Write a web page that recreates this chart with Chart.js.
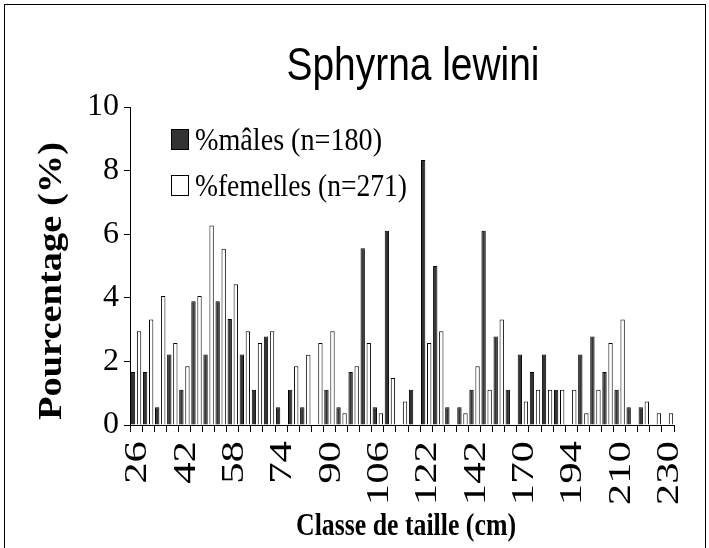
<!DOCTYPE html>
<html>
<head>
<meta charset="utf-8">
<style>
  html, body { margin: 0; padding: 0; background: #fff; }
  #wrap { width: 709px; height: 548px; }
</style>
<script src="https://cdn.jsdelivr.net/npm/chart.js@4/dist/chart.umd.min.js"></script>
</head>
<body>
<div id="wrap"><canvas id="c" width="709" height="548"></canvas></div>
<script>
// size classes (cm) - only every 4th one is printed on the axis
const classes = [26, 30, 34, 38, 42, 46, 50, 54, 58, 62, 66, 70, 74, 78, 82, 86, 90, 94, 98, 102,
  106, 110, 114, 118, 122, 127, 132, 137, 142, 149, 156, 163, 170, 176, 182, 188, 194, 198, 202, 206,
  210, 215, 220, 225, 230];

const males = [1.67, 1.67, 0.56, 2.22, 1.11, 3.89, 2.22, 3.89, 3.33, 2.22, 1.11, 2.78, 0.56, 1.11, 0.56,
  0, 1.11, 0.56, 1.67, 5.56, 0.56, 6.11, 0, 1.11, 8.33, 5.0, 0.56, 0.56, 1.11, 6.11, 2.78, 1.11, 2.22,
  1.67, 2.22, 1.11, 0, 2.22, 2.78, 1.67, 1.11, 0.56, 0.56, 0, 0];

const females = [2.95, 3.32, 4.06, 2.58, 1.85, 4.06, 6.27, 5.54, 4.43, 2.95, 2.58, 2.95, 0, 1.85, 2.21,
  2.58, 2.95, 0.37, 1.85, 2.58, 0.37, 1.48, 0.74, 0, 2.58, 2.95, 0, 0.37, 1.85, 1.11, 3.32, 0, 0.74,
  1.11, 1.11, 1.11, 1.11, 0.37, 1.11, 2.58, 3.32, 0, 0.74, 0.37, 0.37];

const seriesNames = ['%mâles (n=180)', '%femelles (n=271)'];
const yTicks = [0, 2, 4, 6, 8, 10];

const SERIF = '"Liberation Serif", "Times New Roman", serif';
const SANS = '"Liberation Sans", Arial, sans-serif';

// draw a text squeezed/stretched so it takes exactly `w` px
function fitText(ctx, text, x, y, font, w, rot) {
  ctx.save();
  ctx.font = font;
  const natural = ctx.measureText(text).width;
  ctx.translate(x, y);
  if (rot) ctx.rotate(rot);
  ctx.scale(w / natural, 1);
  ctx.textAlign = 'center';
  ctx.textBaseline = 'alphabetic';
  ctx.fillStyle = '#000';
  ctx.fillText(text, 0, 0);
  ctx.restore();
}

const decor = {
  id: 'decor',
  beforeDraw(chart) {
    const ctx = chart.ctx;
    ctx.save();
    ctx.fillStyle = '#fff';
    ctx.fillRect(0, 0, chart.width, chart.height);
    ctx.strokeStyle = '#000';
    ctx.lineWidth = 1;
    ctx.strokeRect(4.5, 4.5, 701, 560);
    ctx.restore();
  },
  afterDraw(chart) {
    const ctx = chart.ctx;
    // title
    fitText(ctx, 'Sphyrna lewini', 413, 80, '47px ' + SANS, 253);

    // legend
    ctx.save();
    ctx.lineWidth = 1;
    ctx.strokeStyle = '#000';
    ctx.fillStyle = '#333333';
    ctx.fillRect(171.5, 129.5, 17, 20);
    ctx.strokeRect(171.5, 129.5, 17, 20);
    ctx.fillStyle = '#fff';
    ctx.fillRect(171.5, 175.5, 17, 20);
    ctx.strokeRect(171.5, 175.5, 17, 20);
    ctx.restore();
    ctx.save();
    ctx.font = '31px ' + SERIF;
    ctx.fillStyle = '#000';
    const w1 = ctx.measureText(seriesNames[0]).width;
    ctx.translate(195, 150); ctx.scale(187 / w1, 1); ctx.fillText(seriesNames[0], 0, 0);
    ctx.restore();
    ctx.save();
    ctx.font = '31px ' + SERIF;
    ctx.fillStyle = '#000';
    const w2 = ctx.measureText(seriesNames[1]).width;
    ctx.translate(195, 196); ctx.scale(212 / w2, 1); ctx.fillText(seriesNames[1], 0, 0);
    ctx.restore();

    // category labels, every 4th class, rotated and stretched like the original
    const xs = chart.scales.x;
    ctx.save();
    ctx.font = '31px ' + SERIF;
    ctx.fillStyle = '#000';
    classes.forEach((c, i) => {
      if (i % 4) return;
      ctx.save();
      ctx.translate(xs.getPixelForValue(i) + 2, 441);
      ctx.rotate(-Math.PI / 2);
      ctx.scale(1.38, 1);
      ctx.textAlign = 'right';
      ctx.textBaseline = 'middle';
      ctx.fillText(String(c), 0, 0);
      ctx.restore();
    });
    ctx.restore();

    // axis titles
    fitText(ctx, 'Pourcentage (%)', 61, 281, 'bold 33px ' + SERIF, 278, -Math.PI / 2);
    fitText(ctx, 'Classe de taille (cm)', 406, 535, 'bold 31px ' + SERIF, 220);
  }
};

new Chart(document.getElementById('c'), {
  type: 'bar',
  data: {
    labels: classes,
    datasets: [
      { label: seriesNames[0], data: males, backgroundColor: '#333333', borderColor: '#000', borderWidth: 1,
        barPercentage: 0.72, categoryPercentage: 1 },
      { label: seriesNames[1], data: females, backgroundColor: '#ffffff', borderColor: '#000', borderWidth: 1,
        barPercentage: 0.72, categoryPercentage: 1 },
    ],
  },
  options: {
    responsive: false,
    animation: false,
    layout: { padding: { top: 107, right: 35, left: 0, bottom: 0 } },
    plugins: { legend: { display: false }, tooltip: { enabled: false }, title: { display: false } },
    scales: {
      x: {
        afterFit: s => { s.height = 123; },
        grid: { offset: true, drawOnChartArea: false, drawTicks: true, tickLength: 7, color: '#000' },
        border: { color: '#000', width: 1 },
        ticks: { display: false, autoSkip: false },
      },
      y: {
        min: 0, max: 10,
        afterFit: s => { s.width = 130; },
        afterBuildTicks: s => { s.ticks = yTicks.map(v => ({ value: v })); },
        grid: { drawOnChartArea: false, drawTicks: true, tickLength: 6, color: '#000' },
        border: { color: '#000', width: 1 },
        ticks: { padding: 5, color: '#000', font: { family: SERIF, size: 32 } },
      },
    },
  },
  plugins: [decor],
});
</script>
</body>
</html>
